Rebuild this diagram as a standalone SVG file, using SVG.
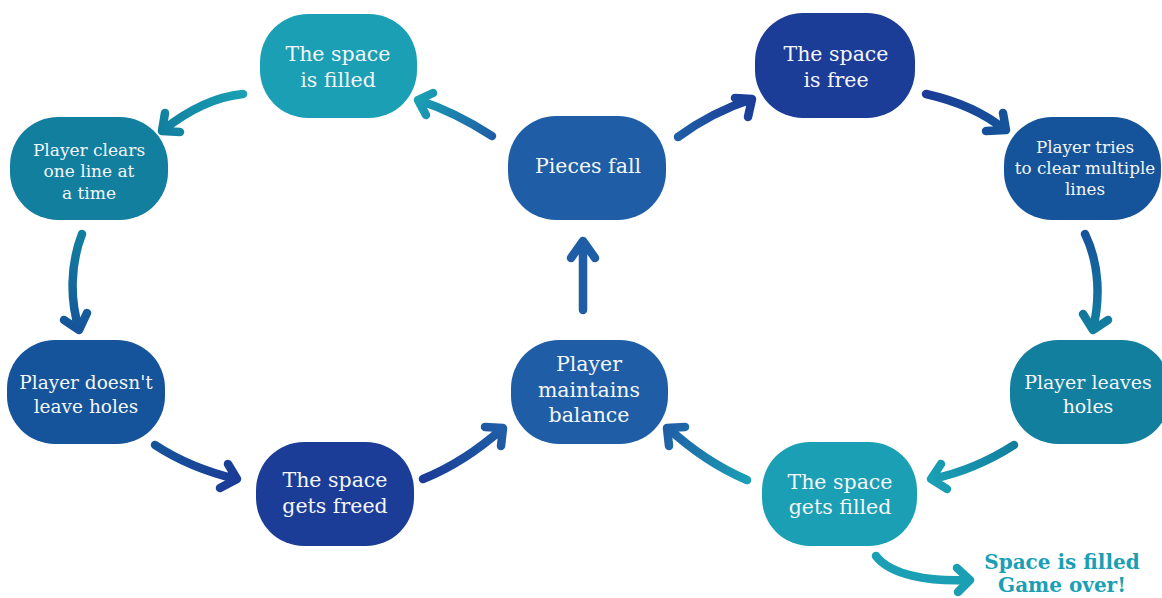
<svg xmlns="http://www.w3.org/2000/svg" width="1162" height="598" viewBox="0 0 1162 598">
<style>
.n{stroke:none}
.c1{fill:#1a9fb4}.c2{fill:#127f9f}.c3{fill:#15549a}.c4{fill:#1b3c97}.c5{fill:#1f5ea6}
.t{font-family:"DejaVu Serif","Liberation Serif",serif;fill:#f4f6f8;text-anchor:middle}
.a{fill:none;stroke-width:8.5;stroke-linecap:round;stroke-linejoin:round}
.go{font-family:"DejaVu Serif","Liberation Serif",serif;font-weight:bold;fill:#1a9fb4;text-anchor:middle;font-size:20px}
</style>
<defs>
<linearGradient id="g1" gradientUnits="userSpaceOnUse" x1="243" y1="94" x2="162" y2="131"><stop offset="0" stop-color="#1a9fb4"/><stop offset="1" stop-color="#127f9f"/></linearGradient>
<linearGradient id="g2" gradientUnits="userSpaceOnUse" x1="492" y1="136" x2="418" y2="100"><stop offset="0" stop-color="#1f5ea6"/><stop offset="1" stop-color="#1a9fb4"/></linearGradient>
<linearGradient id="g3" gradientUnits="userSpaceOnUse" x1="82" y1="234" x2="79" y2="330"><stop offset="0" stop-color="#127f9f"/><stop offset="1" stop-color="#15549a"/></linearGradient>
<linearGradient id="g4" gradientUnits="userSpaceOnUse" x1="155" y1="445" x2="237" y2="479"><stop offset="0" stop-color="#15549a"/><stop offset="1" stop-color="#1b3c97"/></linearGradient>
<linearGradient id="g5" gradientUnits="userSpaceOnUse" x1="423" y1="479" x2="503" y2="428"><stop offset="0" stop-color="#1b3c97"/><stop offset="1" stop-color="#1f5ea6"/></linearGradient>
<linearGradient id="g7" gradientUnits="userSpaceOnUse" x1="678" y1="137" x2="752" y2="99"><stop offset="0" stop-color="#1f5ea6"/><stop offset="1" stop-color="#1b3c97"/></linearGradient>
<linearGradient id="g8" gradientUnits="userSpaceOnUse" x1="926" y1="94" x2="1006" y2="130"><stop offset="0" stop-color="#1b3c97"/><stop offset="1" stop-color="#15549a"/></linearGradient>
<linearGradient id="g9" gradientUnits="userSpaceOnUse" x1="1085" y1="234" x2="1093" y2="330"><stop offset="0" stop-color="#15549a"/><stop offset="1" stop-color="#127f9f"/></linearGradient>
<linearGradient id="g10" gradientUnits="userSpaceOnUse" x1="1014" y1="445" x2="932" y2="479"><stop offset="0" stop-color="#127f9f"/><stop offset="1" stop-color="#1a9fb4"/></linearGradient>
<linearGradient id="g11" gradientUnits="userSpaceOnUse" x1="747" y1="480" x2="667" y2="428"><stop offset="0" stop-color="#1a9fb4"/><stop offset="1" stop-color="#1f5ea6"/></linearGradient>
</defs>
<rect width="1162" height="598" fill="#ffffff"/>
<g id="connectors">
<path class="a" stroke="url(#g1)" d="M243,94 Q203,98 162,131 M165,113 L162,131 L180,132"/>
<path class="a" stroke="url(#g2)" d="M492,136 Q455,112 418,100 M426,115 L418,100 L433,93"/>
<path class="a" stroke="url(#g3)" d="M82,234 C70,265 70,300 79,329 M64,320 L79,330 L87,313"/>
<path class="a" stroke="url(#g4)" d="M155,445 Q190,468 236,479 M228,464 L237,479 L220,488"/>
<path class="a" stroke="url(#g5)" d="M423,479 Q465,462 503,428 M485,427 L503,428 L501,446"/>
<path class="a" stroke="#1f5ea6" d="M583,310 L583,242 M571,258 L583,241 L595,258"/>
<path class="a" stroke="url(#g7)" d="M678,137 Q712,112 752,99 M735,98 L752,99 L748,117"/>
<path class="a" stroke="url(#g8)" d="M926,94 Q975,105 1005,130 M1003,113 L1006,130 L986,131"/>
<path class="a" stroke="url(#g9)" d="M1085,234 C1100,265 1100,300 1093,329 M1083,314 L1093,330 L1108,320"/>
<path class="a" stroke="url(#g10)" d="M1014,445 Q975,470 932,479 M941,464 L931,479 L947,489"/>
<path class="a" stroke="url(#g11)" d="M747,480 Q705,462 668,428 M669,446 L667,428 L685,427"/>
<path class="a" stroke="#1a9fb4" d="M876,556 C890,575 930,582 969,580 M957,568 L970,580 L958,592"/>
</g>
<g id="n-space-filled"><rect class="n c1" x="260" y="14" width="157" height="104" rx="48"/>
<text class="t" font-size="20.5" x="338"><tspan x="338" y="61">The space</tspan><tspan x="338" y="87">is filled</tspan></text></g>
<g id="n-clears"><rect class="n c2" x="10" y="117" width="158" height="103" rx="48"/>
<text class="t" font-size="17" x="89"><tspan x="89" y="156">Player clears</tspan><tspan x="89" y="177">one line at</tspan><tspan x="89" y="199">a time</tspan></text></g>
<g id="n-no-holes"><rect class="n c3" x="7" y="340" width="158" height="104" rx="48"/>
<text class="t" font-size="18.5" x="86"><tspan x="86" y="389">Player doesn't</tspan><tspan x="86" y="413">leave holes</tspan></text></g>
<g id="n-freed"><rect class="n c4" x="256" y="442" width="158" height="104" rx="48"/>
<text class="t" font-size="20.5" x="335"><tspan x="335" y="487">The space</tspan><tspan x="335" y="513">gets freed</tspan></text></g>
<g id="n-pieces"><rect class="n c5" x="508" y="116" width="158" height="104" rx="48"/>
<text class="t" font-size="20.5" x="588" y="173">Pieces fall</text></g>
<g id="n-balance"><rect class="n c5" x="511" y="340" width="157" height="104" rx="48"/>
<text class="t" font-size="20.5" x="589"><tspan x="589" y="371">Player</tspan><tspan x="589" y="397">maintains</tspan><tspan x="589" y="422">balance</tspan></text></g>
<g id="n-space-free"><rect class="n c4" x="755" y="13" width="160" height="105" rx="48"/>
<text class="t" font-size="20.5" x="836"><tspan x="836" y="61">The space</tspan><tspan x="836" y="87">is free</tspan></text></g>
<g id="n-tries"><rect class="n c3" x="1004" y="117" width="157" height="103" rx="48"/>
<text class="t" font-size="16.8" x="1085"><tspan x="1085" y="153">Player tries</tspan><tspan x="1085" y="174">to clear multiple</tspan><tspan x="1085" y="195">lines</tspan></text></g>
<g id="n-leaves"><rect class="n c2" x="1010" y="340" width="160" height="104" rx="48"/>
<text class="t" font-size="19" x="1088"><tspan x="1088" y="389">Player leaves</tspan><tspan x="1088" y="413">holes</tspan></text></g>
<g id="n-gets-filled"><rect class="n c1" x="762" y="442" width="155" height="104" rx="48"/>
<text class="t" font-size="20.5" x="840"><tspan x="840" y="489">The space</tspan><tspan x="840" y="514">gets filled</tspan></text></g>
<g id="game-over"><text class="go" x="1062"><tspan x="1062" y="569">Space is filled</tspan><tspan x="1062" y="592">Game over!</tspan></text></g>
</svg>
